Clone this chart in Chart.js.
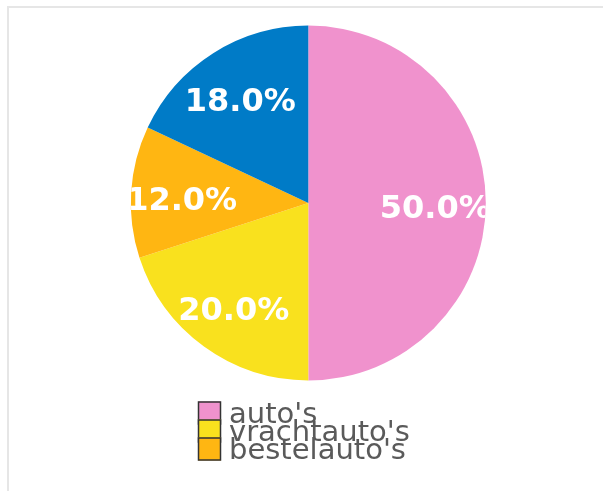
<!DOCTYPE html>
<html>
<head>
<meta charset="utf-8">
<script src="https://cdn.jsdelivr.net/npm/chart.js@4"></script>
<style>
    html, body { margin: 0; padding: 0; background: #fff; overflow: hidden; }
    .edge { position: absolute; background: #e6e6e6; }
    #edgeTop { left: 7px; top: 6px; width: 600px; height: 2px; }
    #edgeLeft { left: 7px; top: 6px; width: 2px; height: 500px; }
    #wrap { position: absolute; left: 0; top: 0; width: 603px; height: 491px; }
</style>
</head>
<body>
<div class="edge" id="edgeTop"></div>
<div class="edge" id="edgeLeft"></div>
<div id="wrap"><canvas id="pieChart"></canvas></div>
<script>
// Vehicle share data
const categories = ["auto's", "vrachtauto's", "bestelauto's", "motoren"];
const shares = [50, 20, 12, 18];
const sliceColors = ['#F092CD', '#F9E11E', '#FFB612', '#007BC7'];
const legendCount = 3; // only first three legend rows are visible

// Percentage labels inside slices, clipped to the pie
const sliceLabels = {
    id: 'sliceLabels',
    afterDatasetsDraw(chart) {
        const ctx = chart.ctx;
        const meta = chart.getDatasetMeta(0);
        const total = shares.reduce((a, b) => a + b, 0);
        const first = meta.data[0];
        ctx.save();
        ctx.beginPath();
        ctx.arc(first.x, first.y, first.outerRadius, 0, Math.PI * 2);
        ctx.clip();
        ctx.fillStyle = '#fff';
        ctx.font = 'bold 32px "DejaVu Sans"';
        ctx.textAlign = 'center';
        ctx.textBaseline = 'middle';
        meta.data.forEach((arc, i) => {
            const mid = (arc.startAngle + arc.endAngle) / 2;
            const r = arc.outerRadius * 0.715;
            const x = arc.x + Math.cos(mid) * r;
            const y = arc.y + Math.sin(mid) * r + 6.5;
            ctx.fillText((shares[i] / total * 100).toFixed(1) + '%', x, y);
        });
        ctx.restore();
    }
};

// Stacked legend under the pie (rows overlap like the original)
const stackedLegend = {
    id: 'stackedLegend',
    afterDraw(chart) {
        const ctx = chart.ctx;
        const area = chart.chartArea;
        const left = 198, top = area.bottom + 21, step = 18, box = 23;
        ctx.save();
        ctx.font = '29px "DejaVu Sans"';
        ctx.textAlign = 'left';
        ctx.textBaseline = 'alphabetic';
        for (let i = 0; i < legendCount; i++) {
            const y = top + i * step;
            ctx.fillStyle = sliceColors[i];
            ctx.fillRect(left, y, box, box);
            ctx.strokeStyle = '#333';
            ctx.lineWidth = 1.5;
            ctx.strokeRect(left + 0.5, y + 0.5, box - 1, box - 1);
        }
        ctx.fillStyle = '#5a5a5a';
        for (let i = 0; i < legendCount; i++) {
            ctx.fillText(categories[i], left + 31, top + i * step + 21.5);
        }
        ctx.restore();
    }
};

const ctxPie = document.getElementById('pieChart').getContext('2d');
new Chart(ctxPie, {
    type: 'pie',
    data: {
        labels: categories,
        datasets: [{
            data: shares,
            backgroundColor: sliceColors,
            borderWidth: 0
        }]
    },
    options: {
        responsive: true, maintainAspectRatio: false, animation: false,
        layout: { padding: { top: 25.5, bottom: 110.5, left: 130.8, right: 117.2 } },
        plugins: { legend: { display: false }, tooltip: { enabled: false } }
    },
    plugins: [sliceLabels, stackedLegend]
});
</script>
</body>
</html>
